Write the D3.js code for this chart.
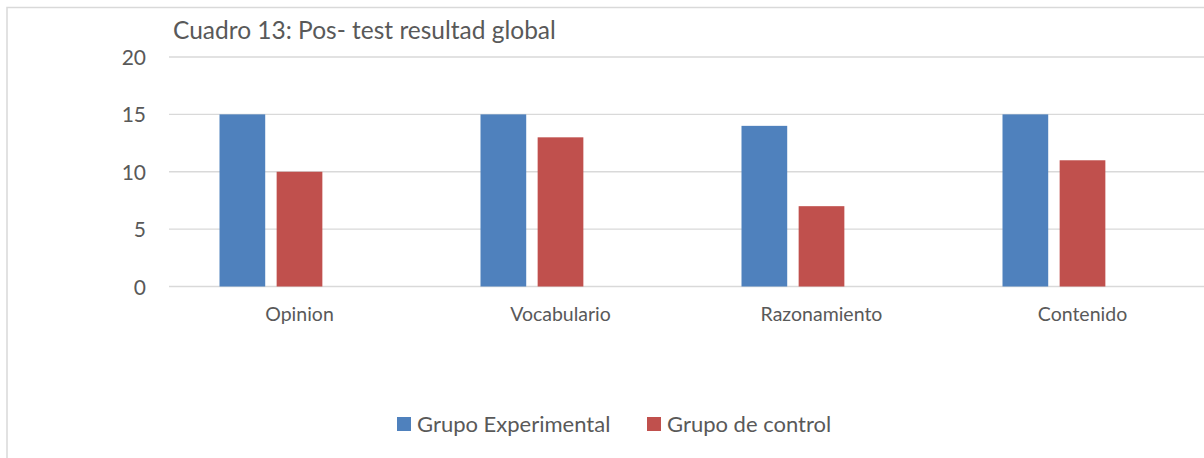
<!DOCTYPE html>
<html><head><meta charset="utf-8">
<script src="https://cdn.jsdelivr.net/npm/d3@7"></script>
<style>body{margin:0;background:#fff}svg{display:block}text{font-family:Lato,"Open Sans",sans-serif;fill:#595959}</style>
</head><body><svg id="c" width="1204" height="458"></svg>
<script>
const categories = ["Opinion", "Vocabulario", "Razonamiento", "Contenido"];
const seriesNames = ["Grupo Experimental", "Grupo de control", ""];
const experimental = [15, 15, 14, 15];
const control = [10, 13, 7, 11];
const empty = [null, null, null, null];
const yTicks = [0, 5, 10, 15, 20];
const colors = ["#4F81BD", "#C0504D", "#9BBB59"];
const title = "Cuadro 13: Pos- test resultad global";

const svg = d3.select("#c");
// chart area border
svg.append("rect").attr("x", 7).attr("y", 7.5).attr("width", 1300).attr("height", 600)
  .attr("fill", "none").attr("stroke", "#D9D9D9").attr("stroke-width", 1.5);

const plotLeft = 169, catW = 261, plotTop = 57, plotBottom = 286.5;
const x = d3.scaleBand().domain(categories).range([plotLeft, plotLeft + catW * categories.length]).paddingInner(0).paddingOuter(0);
const y = d3.scaleLinear().domain([0, 20]).range([plotBottom, plotTop]);
const gapSide = 50.5;
const xs = d3.scaleBand().domain([0, 1, 2]).range([gapSide, catW - gapSide]).paddingInner(0.2).paddingOuter(0);

// gridlines
svg.append("g").selectAll("line").data(yTicks).join("line")
  .attr("x1", plotLeft).attr("x2", 1204).attr("y1", d => y(d)).attr("y2", d => y(d))
  .attr("stroke", "#D9D9D9").attr("stroke-width", 1.3);

const yAxis = d3.axisLeft(y).tickValues(yTicks).tickSize(0).tickPadding(0);
const gy = svg.append("g").attr("transform", `translate(146,0)`).call(yAxis);
gy.select(".domain").remove();
gy.selectAll("text").style("font-size", "21px").attr("dy", "0.36em").attr("fill", "#595959");

const data = [experimental, control, empty];
data.forEach((vals, si) => {
  svg.append("g").selectAll("rect").data(categories.map((c, i) => ({c, v: vals[i]})).filter(d => d.v != null))
    .join("rect")
    .attr("x", d => x(d.c) + xs(si)).attr("width", xs.bandwidth())
    .attr("y", d => y(d.v)).attr("height", d => y(0) - y(d.v))
    .attr("fill", colors[si]);
});

const xAxis = d3.axisBottom(x).tickSize(0).tickPadding(0);
const gx = svg.append("g").attr("transform", `translate(0,${plotBottom})`).call(xAxis);
gx.select(".domain").remove();
gx.selectAll("text").style("font-size", "19.5px").attr("y", 34).attr("dy", "0").attr("fill", "#595959");

svg.append("text").attr("x", 173).attr("y", 39).style("font-size", "24.5px").text(title);

const legend = [{n: seriesNames[0], c: colors[0], x: 397}, {n: seriesNames[1], c: colors[1], x: 647}];
const lg = svg.append("g").selectAll("g").data(legend).join("g").attr("transform", d => `translate(${d.x},417)`);
lg.append("rect").attr("width", 14).attr("height", 14).attr("fill", d => d.c);
lg.append("text").attr("x", 20).attr("y", 15).style("font-size", "22px").text(d => d.n);
</script></body></html>
